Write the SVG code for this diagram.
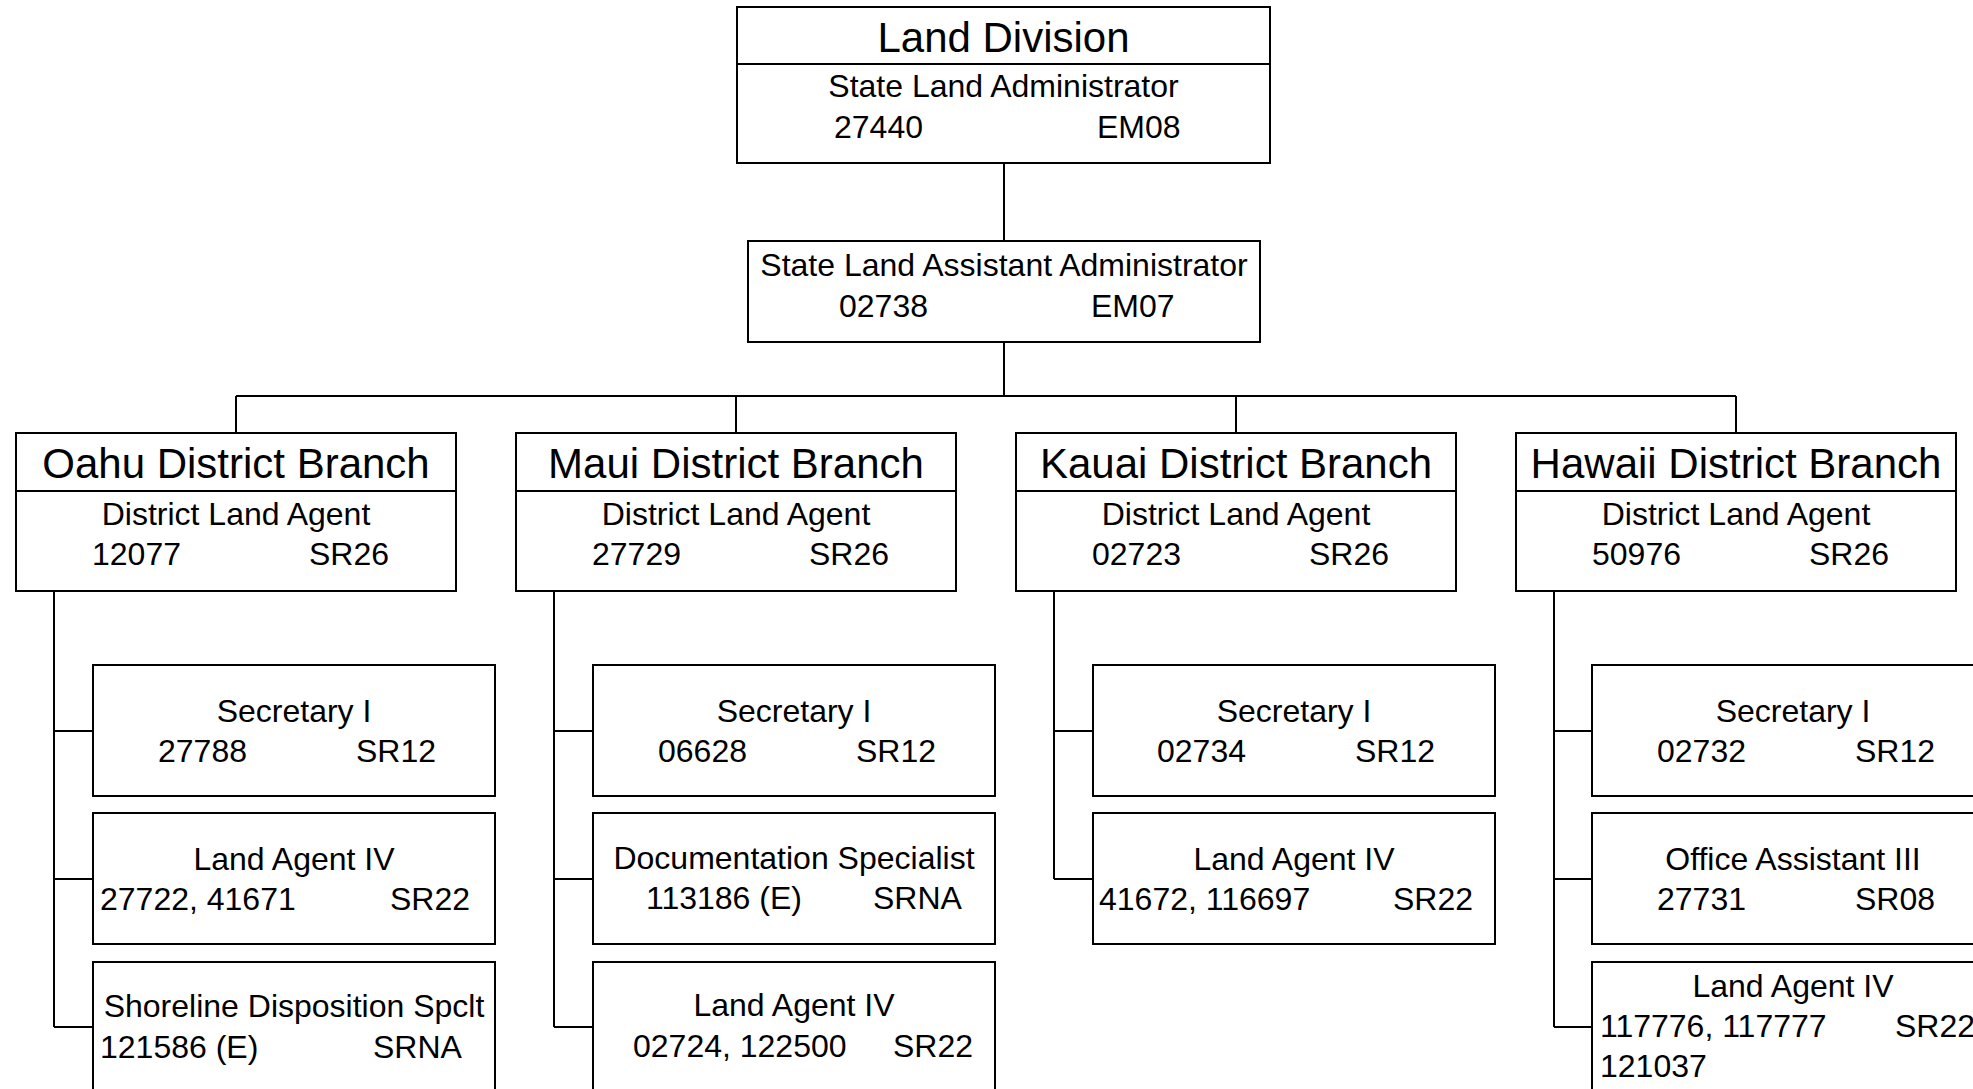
<svg xmlns="http://www.w3.org/2000/svg" width="1973" height="1089" viewBox="0 0 1973 1089">
<style>
  .box { fill: #ffffff; stroke: #000000; stroke-width: 2; }
  .ln { fill: none; stroke: #000000; stroke-width: 2; }
  text { font-family: "Liberation Sans", Arial, sans-serif; fill: #000000; }
  .h { font-size: 42px; text-anchor: middle; }
  .t { font-size: 32px; text-anchor: middle; }
  .n { font-size: 32px; }
</style>
<rect width="1973" height="1089" fill="#ffffff"/>
<g id="connectors" class="ln">
  <path d="M1004 163V241M1004 342V396M236 396H1736M236 396V433M736 396V433M1236 396V433M1736 396V433"/>
  <path d="M54 591V1027M54 731H93M54 879H93M54 1027H93"/>
  <path d="M554 591V1027M554 731H593M554 879H593M554 1027H593"/>
  <path d="M1054 591V879M1054 731H1093M1054 879H1093"/>
  <path d="M1554 591V1027M1554 731H1592M1554 879H1592M1554 1027H1592"/>
</g>
<g id="land-division">
  <rect class="box" x="737" y="7" width="533" height="156"/>
  <line class="ln" x1="737" y1="64" x2="1270" y2="64"/>
  <text class="h" x="1003.5" y="52">Land Division</text>
  <text class="t" x="1003.5" y="97">State Land Administrator</text>
  <text class="n" x="834" y="138">27440</text>
  <text class="n" x="1097" y="138">EM08</text>
</g>
<g id="assistant-administrator">
  <rect class="box" x="748" y="241" width="512" height="101"/>
  <text class="t" x="1004" y="276">State Land Assistant Administrator</text>
  <text class="n" x="839" y="317">02738</text>
  <text class="n" x="1091" y="317">EM07</text>
</g>
<g id="oahu-branch">
  <rect class="box" x="16" y="433" width="440" height="158"/>
  <line class="ln" x1="16" y1="491" x2="456" y2="491"/>
  <text class="h" x="236" y="478">Oahu District Branch</text>
  <text class="t" x="236" y="525">District Land Agent</text>
  <text class="n" x="92" y="565">12077</text>
  <text class="n" x="309" y="565">SR26</text>
</g>
<g id="maui-branch">
  <rect class="box" x="516" y="433" width="440" height="158"/>
  <line class="ln" x1="516" y1="491" x2="956" y2="491"/>
  <text class="h" x="736" y="478">Maui District Branch</text>
  <text class="t" x="736" y="525">District Land Agent</text>
  <text class="n" x="592" y="565">27729</text>
  <text class="n" x="809" y="565">SR26</text>
</g>
<g id="kauai-branch">
  <rect class="box" x="1016" y="433" width="440" height="158"/>
  <line class="ln" x1="1016" y1="491" x2="1456" y2="491"/>
  <text class="h" x="1236" y="478">Kauai District Branch</text>
  <text class="t" x="1236" y="525">District Land Agent</text>
  <text class="n" x="1092" y="565">02723</text>
  <text class="n" x="1309" y="565">SR26</text>
</g>
<g id="hawaii-branch">
  <rect class="box" x="1516" y="433" width="440" height="158"/>
  <line class="ln" x1="1516" y1="491" x2="1956" y2="491"/>
  <text class="h" x="1736" y="478">Hawaii District Branch</text>
  <text class="t" x="1736" y="525">District Land Agent</text>
  <text class="n" x="1592" y="565">50976</text>
  <text class="n" x="1809" y="565">SR26</text>
</g>
<g id="oahu-secretary">
  <rect class="box" x="93" y="665" width="402" height="131"/>
  <text class="t" x="294" y="722">Secretary I</text>
  <text class="n" x="158" y="762">27788</text>
  <text class="n" x="356" y="762">SR12</text>
</g>
<g id="oahu-land-agent">
  <rect class="box" x="93" y="813" width="402" height="131"/>
  <text class="t" x="294" y="870">Land Agent IV</text>
  <text class="n" x="100" y="910">27722, 41671</text>
  <text class="n" x="390" y="910">SR22</text>
</g>
<g id="oahu-shoreline">
  <rect class="box" x="93" y="962" width="402" height="131"/>
  <text class="t" x="294" y="1017">Shoreline Disposition Spclt</text>
  <text class="n" x="100" y="1058">121586 (E)</text>
  <text class="n" x="373" y="1058">SRNA</text>
</g>
<g id="maui-secretary">
  <rect class="box" x="593" y="665" width="402" height="131"/>
  <text class="t" x="794" y="722">Secretary I</text>
  <text class="n" x="658" y="762">06628</text>
  <text class="n" x="856" y="762">SR12</text>
</g>
<g id="maui-documentation">
  <rect class="box" x="593" y="813" width="402" height="131"/>
  <text class="t" x="794" y="869">Documentation Specialist</text>
  <text class="n" x="646" y="909">113186 (E)</text>
  <text class="n" x="873" y="909">SRNA</text>
</g>
<g id="maui-land-agent">
  <rect class="box" x="593" y="962" width="402" height="131"/>
  <text class="t" x="794" y="1016">Land Agent IV</text>
  <text class="n" x="633" y="1057">02724, 122500</text>
  <text class="n" x="893" y="1057">SR22</text>
</g>
<g id="kauai-secretary">
  <rect class="box" x="1093" y="665" width="402" height="131"/>
  <text class="t" x="1294" y="722">Secretary I</text>
  <text class="n" x="1157" y="762">02734</text>
  <text class="n" x="1355" y="762">SR12</text>
</g>
<g id="kauai-land-agent">
  <rect class="box" x="1093" y="813" width="402" height="131"/>
  <text class="t" x="1294" y="870">Land Agent IV</text>
  <text class="n" x="1099" y="910">41672, 116697</text>
  <text class="n" x="1393" y="910">SR22</text>
</g>
<g id="hawaii-secretary">
  <rect class="box" x="1592" y="665" width="402" height="131"/>
  <text class="t" x="1793" y="722">Secretary I</text>
  <text class="n" x="1657" y="762">02732</text>
  <text class="n" x="1855" y="762">SR12</text>
</g>
<g id="hawaii-office-assistant">
  <rect class="box" x="1592" y="813" width="402" height="131"/>
  <text class="t" x="1793" y="870">Office Assistant III</text>
  <text class="n" x="1657" y="910">27731</text>
  <text class="n" x="1855" y="910">SR08</text>
</g>
<g id="hawaii-land-agent">
  <rect class="box" x="1592" y="962" width="402" height="131"/>
  <text class="t" x="1793" y="997">Land Agent IV</text>
  <text class="n" x="1600" y="1037">117776, 117777</text>
  <text class="n" x="1895" y="1037">SR22</text>
  <text class="n" x="1600" y="1077">121037</text>
</g>
</svg>
